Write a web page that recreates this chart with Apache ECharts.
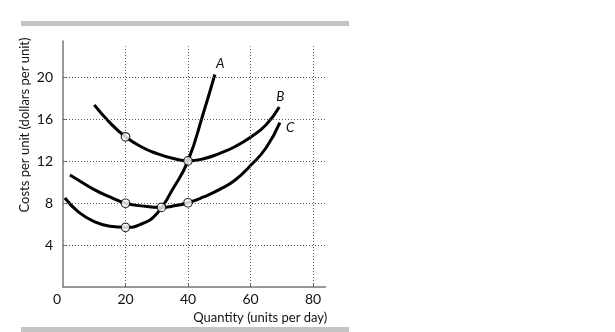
<!DOCTYPE html>
<html>
<head>
<meta charset="utf-8">
<script src="https://cdn.jsdelivr.net/npm/echarts@6/dist/echarts.min.js"></script>
<style>html,body{margin:0;padding:0;background:#fff;}#c{width:615px;height:332px;}</style>
</head>
<body>
<div id="c"></div>
<script>
// ---- data ----
var xTicks = [0, 20, 40, 60, 80];
var yTicks = [4, 8, 12, 16, 20];
var xGridValues = [20, 40, 60, 80];
var yGridValues = [4, 8, 12, 16, 20];
var curveA = [[0.6,8.5],[5,7.15],[10,6.25],[15,5.8],[20,5.7],[25,6.0],[30,7.0],[35,9.3],[40,12.05],[45,16.7],[48.6,20.3]];
var curveB = [[10,17.4],[15,15.7],[20,14.35],[25,13.4],[30,12.75],[35,12.3],[40,12.05],[45,12.25],[50,12.75],[55,13.4],[60,14.3],[65,15.5],[69.2,17.2]];
var curveC = [[2.2,10.7],[5,10.2],[10,9.3],[15,8.6],[20,8.0],[25,7.75],[31.5,7.6],[35,7.72],[40,8.05],[45,8.6],[50,9.3],[55,10.2],[60,11.6],[65,13.3],[69.4,15.7]];
var circlePts = [[20,14.35],[40,12.05],[20,8.0],[31.5,7.6],[40,8.05],[20,5.7]];
var curveNames = ['A', 'B', 'C'];
var xTitle = 'Quantity (units per day)';
var yTitle = 'Costs per unit (dollars per unit)';
var xMax = 84, yMax = 23.5, gridTop = 23;

var FONT = 'Lato';
var gridLines = [];
xGridValues.forEach(function(v){ gridLines.push([{coord:[v,0]},{coord:[v,gridTop]}]); });
yGridValues.forEach(function(v){ gridLines.push([{coord:[0,v]},{coord:[xMax,v]}]); });

function curve(name, data, off){
  return {
    type:'line', data:data, smooth:0.5, showSymbol:false, symbol:'none', z:3,
    lineStyle:{color:'#000', width:3},
    endLabel:{show:true, formatter:name, fontFamily:FONT, fontStyle:'italic', fontSize:13.5, color:'#111', distance:0, offset:off}
  };
}

var chart = echarts.init(document.getElementById('c'), null, {renderer:'canvas'});
chart.setOption({
  animation:false,
  backgroundColor:'#fff',
  grid:{left:63, right:289.5, top:41, bottom:45, containLabel:false},
  graphic:[
    {type:'rect', shape:{x:21, y:21, width:328, height:5}, style:{fill:'#c4c4c4'}},
    {type:'rect', shape:{x:21, y:327, width:328, height:5}, style:{fill:'#c4c4c4'}}
  ],
  xAxis:{
    type:'value', min:0, max:xMax,
    name:xTitle, nameLocation:'middle', nameGap:23,
    nameTextStyle:{fontFamily:FONT, fontSize:13, color:'#111', padding:[0,0,0,132]},
    axisLine:{show:true, lineStyle:{color:'#777', width:1.5}},
    axisTick:{show:true, inside:true, length:4, customValues:[20,40,60,80], lineStyle:{color:'#777'}},
    axisLabel:{customValues:xTicks, margin:5, fontFamily:FONT, fontSize:14, color:'#111',
      formatter:function(v){ return v===0 ? '{o|0}' : String(v); },
      rich:{o:{fontFamily:FONT, fontSize:14, color:'#111', padding:[0,12,0,0]}}},
    splitLine:{show:false}
  },
  yAxis:{
    type:'value', min:0, max:yMax,
    name:yTitle, nameLocation:'middle', nameGap:32, nameRotate:90,
    nameTextStyle:{fontFamily:FONT, fontSize:13, color:'#111', padding:[0,0,0,78]},
    axisLine:{show:true, lineStyle:{color:'#777', width:1.5}},
    axisTick:{show:true, inside:true, length:4, customValues:yTicks, lineStyle:{color:'#777'}},
    axisLabel:{customValues:yTicks, margin:10, fontFamily:FONT, fontSize:14, color:'#111'},
    splitLine:{show:false}
  },
  series:[
    {type:'line', data:[], z:1, silent:true,
     markLine:{silent:true, symbol:'none', label:{show:false},
       lineStyle:{color:'#555', width:1, type:[1,2]}, data:gridLines}},
    curve(curveNames[0], curveA, [1,-11]),
    curve(curveNames[1], curveB, [-3,-10]),
    curve(curveNames[2], curveC, [6,5]),
    {type:'scatter', data:circlePts, z:5, symbol:'circle', symbolSize:8.5,
     itemStyle:{color:'#fff', borderColor:'#000', borderWidth:1.2}}
  ]
});
</script>
</body>
</html>
